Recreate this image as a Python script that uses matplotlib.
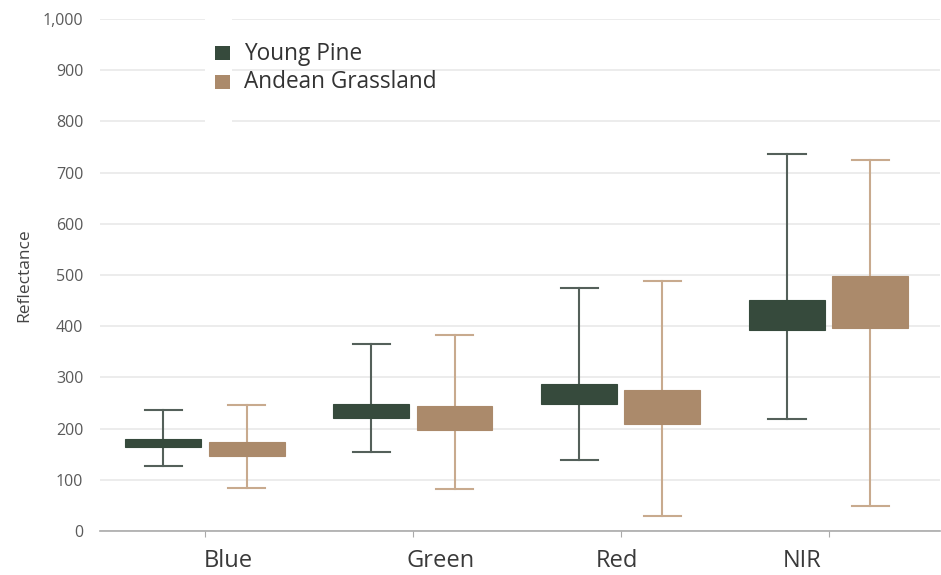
import matplotlib
matplotlib.use("Agg")
import matplotlib.pyplot as plt
from matplotlib.patches import Rectangle
from matplotlib.ticker import FuncFormatter
from matplotlib.transforms import ScaledTranslation

categories = ["Blue", "Green", "Red", "NIR"]
series = ["Young Pine", "Andean Grassland"]

pine_whislo = [127, 154, 138, 219]
pine_q1 = [164, 221, 248, 393]
pine_q3 = [179, 249, 287, 452]
pine_whishi = [237, 365, 474, 736]

grass_whislo = [84, 82, 29, 49]
grass_q1 = [147, 197, 209, 396]
grass_q3 = [173, 244, 276, 498]
grass_whishi = [246, 383, 488, 725]

yticks = [0, 100, 200, 300, 400, 500, 600, 700, 800, 900, 1000]

pine_color = "#364a3c"
grass_color = "#ab8a6b"
pine_whisk = "#54605a"
grass_whisk = "#c8aa8e"

plt.rcParams['font.family'] = ['Open Sans', 'DejaVu Sans']

W, H = 941, 575
fig = plt.figure(figsize=(W / 100, H / 100), dpi=100)
ax = fig.add_axes([100 / W, 44 / H, 840 / W, 512 / H])

def stats(lo, q1, q3, hi):
    return [dict(whislo=a, q1=b, med=(b + c) / 2, q3=c, whishi=d, fliers=[])
            for a, b, c, d in zip(lo, q1, q3, hi)]

width = 0.365
off = 0.2
pos = list(range(len(categories)))

for st, shift, fc, wc in [
    (stats(pine_whislo, pine_q1, pine_q3, pine_whishi), -off, pine_color, pine_whisk),
    (stats(grass_whislo, grass_q1, grass_q3, grass_whishi), off, grass_color, grass_whisk),
]:
    ax.bxp(st, positions=[p + shift for p in pos], widths=width, patch_artist=True,
           showfliers=False, capwidths=0.18,
           boxprops=dict(facecolor=fc, edgecolor=fc, linewidth=0.8, zorder=3),
           whiskerprops=dict(color=wc, linewidth=1.5, zorder=2),
           capprops=dict(color=wc, linewidth=1.5, zorder=2),
           medianprops=dict(visible=False), manage_ticks=False)

ax.set_xlim(-0.505, 3.535)
ax.set_ylim(0, 1000)
ax.set_yticks(yticks)
ax.yaxis.set_major_formatter(FuncFormatter(lambda v, p: f"{int(v):,}"))
ax.set_xticks(pos)
ax.set_xticklabels(categories, fontsize=17, color="#3a3a3a")
ax.tick_params(axis='x', length=4, color="#aaaaaa", pad=9)
ax.tick_params(axis='y', length=0, labelsize=11.5, labelcolor="#5a5a5a", pad=12)
ax.grid(axis='y', color="#e9e9e9", linewidth=1.2, zorder=0)
ax.set_axisbelow(True)
for s in ["top", "right", "left"]:
    ax.spines[s].set_visible(False)
ax.spines["bottom"].set_color("#aaaaaa")
ax.spines["bottom"].set_linewidth(1.2)
ax.set_ylabel("Reflectance", fontsize=12.5, color="#444444")
ax.yaxis.set_label_coords(-68 / 840, 0.5)

# category label offsets as seen in the reference (pixels)
label_dx = [23, 28, -4, -27]
for lbl, dx in zip(ax.get_xticklabels(), label_dx):
    lbl.set_transform(lbl.get_transform() + ScaledTranslation(dx / 100, 0, fig.dpi_scale_trans))

# white strip behind legend markers (gap in gridlines)
fig.patches.append(Rectangle((205 / W, (H - 127) / H), 27 / W, 115 / H,
                             transform=fig.transFigure, facecolor="white",
                             edgecolor="none", zorder=1))

# legend drawn manually
for i, (name, col) in enumerate(zip(series, [pine_color, grass_color])):
    base = 60 + 28.5 * i
    fig.patches.append(Rectangle((215 / W, (H - base) / H), 15 / W, 14 / H,
                                 transform=fig.transFigure, facecolor=col,
                                 edgecolor="none", zorder=2))
    fig.text(244 / W, (H - base) / H, name, fontsize=16.3, color="#333333",
             ha="left", va="baseline")

fig.savefig("out.png", dpi=100)
